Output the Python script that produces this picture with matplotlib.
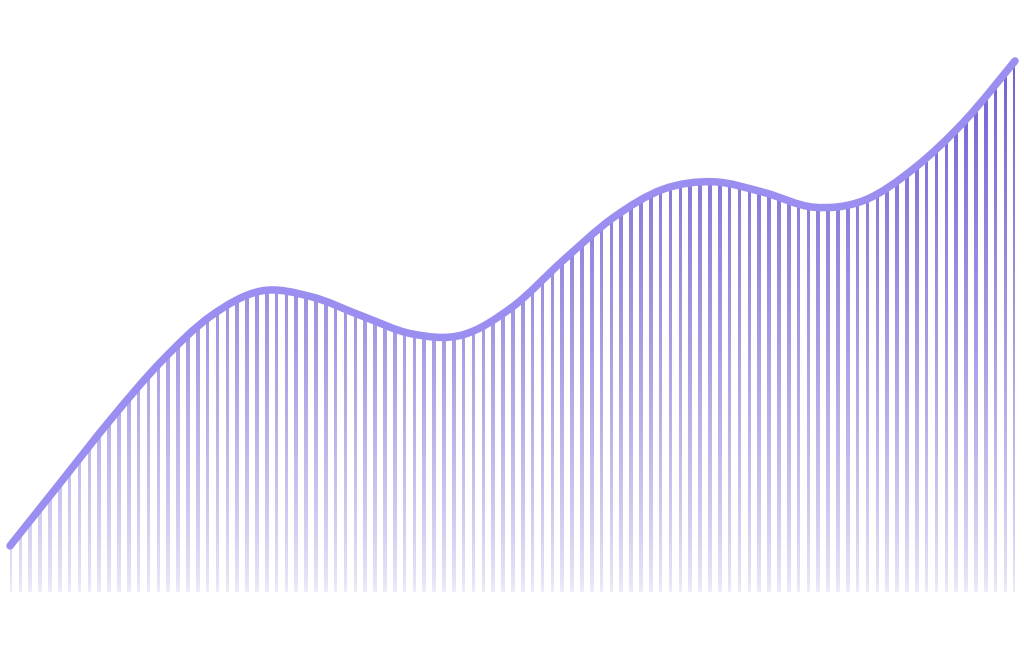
import numpy as np
import matplotlib
matplotlib.use("Agg")
import matplotlib.pyplot as plt
from matplotlib.path import Path
from matplotlib.patches import PathPatch
from matplotlib.colors import to_rgb

# points (x on a 0-100 scale, value on a 0-100 scale)
x = [0, 5, 10, 15, 20, 25, 30, 35, 40, 45, 50, 55, 60, 65, 70, 75, 80, 85,
     90, 95, 100]
values = [8.7, 20.6, 32.5, 43.4, 52.1, 56.8, 55.7, 52.1, 48.7, 48.5, 53.8,
          62.5, 70.6, 76.0, 77.4, 75.4, 72.6, 73.9, 80.0, 88.9, 100.2]

line_color = "#9a8ff0"
bar_color = "#6f5dd3"


def smooth_path(xs, ys):
    # catmull-rom through the points, as cubic bezier segments
    pts = np.column_stack([xs, ys]).astype(float)
    n = len(pts)
    verts = [pts[0]]
    codes = [Path.MOVETO]
    for i in range(n - 1):
        p0 = pts[max(i - 1, 0)]
        p1 = pts[i]
        p2 = pts[i + 1]
        p3 = pts[min(i + 2, n - 1)]
        verts += [p1 + (p2 - p0) / 6, p2 - (p3 - p1) / 6, p2]
        codes += [Path.CURVE4] * 3
    return verts, codes


fig = plt.figure(figsize=(10.24, 6.72), dpi=100)
ax = fig.add_axes([10 / 1024, 80 / 672, 1005 / 1024, 530 / 672])
ax.set_xlim(0, 100)
ax.set_ylim(0, 100)
ax.axis("off")

verts, codes = smooth_path(x, values)

# area under the curve, used only to clip the stripes
area_verts = verts + [(x[-1], 0), (x[0], 0), (x[0], values[0])]
area_codes = codes + [Path.LINETO, Path.LINETO, Path.CLOSEPOLY]
area = PathPatch(Path(area_verts, area_codes), facecolor="none", edgecolor="none")
ax.add_patch(area)

# vertical stripes fading towards the bottom
W, H = 1005, 530
cols = np.arange(W)
mask = ((cols + 1.7) % 9.85) < 3.6
t = np.arange(H) / H
alpha_rows = 0.12 + 0.86 * t ** 0.75
img = np.zeros((H, W, 4))
img[..., :3] = to_rgb(bar_color)
img[..., 3] = alpha_rows[:, None] * mask[None, :]
im = ax.imshow(img, extent=[0, 100, 0, 100], origin="lower", aspect="auto",
               interpolation="nearest", zorder=1)
im.set_clip_path(area)

line = PathPatch(Path(verts, codes), facecolor="none", edgecolor=line_color,
                 lw=5.4, capstyle="round", joinstyle="round", zorder=3, clip_on=False)
ax.add_patch(line)

fig.savefig("out.png", dpi=100)
